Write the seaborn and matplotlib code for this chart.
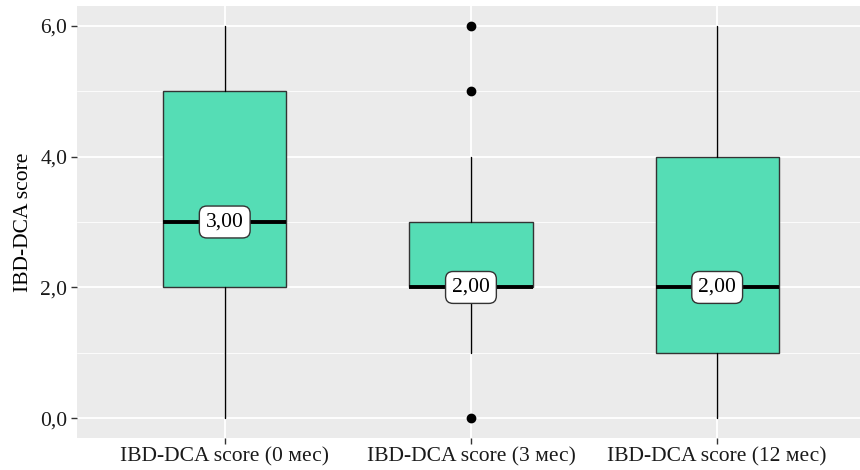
import matplotlib
matplotlib.use("Agg")
import matplotlib.pyplot as plt
import seaborn as sns

# Summary statistics of IBD-DCA score at each visit
groups = ["IBD-DCA score (0 мес)", "IBD-DCA score (3 мес)", "IBD-DCA score (12 мес)"]
whisker_low = [0, 1, 0]
q1 = [2, 2, 1]
median = [3, 2, 2]
q3 = [5, 3, 4]
whisker_high = [6, 4, 6]
outliers = [[], [0, 5, 6], []]

y_ticks = [0, 2, 4, 6]
y_tick_labels = ["0,0", "2,0", "4,0", "6,0"]

sns.set_theme(style="darkgrid", rc={
    "axes.facecolor": "#EBEBEB",
    "grid.color": "white",
    "axes.edgecolor": "none",
    "xtick.bottom": True,
    "ytick.left": True,
    "xtick.color": "#333333",
    "ytick.color": "#333333",
    "xtick.major.size": 4,
    "ytick.major.size": 4,
    "xtick.major.width": 1.0,
    "ytick.major.width": 1.0,
})
plt.rcParams["font.family"] = ["Liberation Serif", "DejaVu Serif"]

FS = 15.5

fig = plt.figure(figsize=(8.6, 4.7), dpi=100)
ax = fig.add_axes([77 / 860, 1 - 438 / 470, 1 - 77 / 860, 432 / 470])

stats = []
for i, name in enumerate(groups):
    stats.append({
        "label": name,
        "whislo": whisker_low[i],
        "q1": q1[i],
        "med": median[i],
        "q3": q3[i],
        "whishi": whisker_high[i],
        "fliers": outliers[i],
    })

ax.bxp(
    stats,
    positions=range(len(groups)),
    widths=0.5,
    patch_artist=True,
    showcaps=False,
    boxprops=dict(facecolor="#55DDB5", edgecolor="#333333", linewidth=1.0),
    medianprops=dict(color="black", linewidth=2.8, solid_capstyle="butt"),
    whiskerprops=dict(color="black", linewidth=1.0),
    flierprops=dict(marker="o", markerfacecolor="black", markeredgecolor="black",
                    markersize=6),
    zorder=3,
)

for i, m in enumerate(median):
    ax.text(i, m, f"{m:.2f}".replace(".", ","), ha="center", va="center",
            fontsize=FS, color="black", zorder=5,
            bbox=dict(boxstyle="round,pad=0.3,rounding_size=0.35",
                      facecolor="white", edgecolor="#333333", linewidth=1.0))

ax.set_xlim(-0.6, 2.58)
ax.set_ylim(-0.3, 6.3)
ax.set_xticks(range(len(groups)))
ax.set_xticklabels(groups, fontsize=FS, color="#1a1a1a")
ax.set_yticks(y_ticks)
ax.set_yticklabels(y_tick_labels, fontsize=FS, color="#1a1a1a")
ax.set_yticks([1, 3, 5], minor=True)
ax.tick_params(axis="y", which="minor", length=0)
ax.tick_params(axis="both", which="major", pad=3)
ax.grid(True, which="major", color="white", linewidth=1.3)
ax.grid(True, which="minor", axis="y", color="white", linewidth=0.6)
ax.set_axisbelow(True)
ax.set_ylabel("IBD-DCA score", fontsize=FS, color="black", labelpad=5)
ax.set_xlabel("")
for s in ax.spines.values():
    s.set_visible(False)

fig.savefig("out.png", dpi=100)
